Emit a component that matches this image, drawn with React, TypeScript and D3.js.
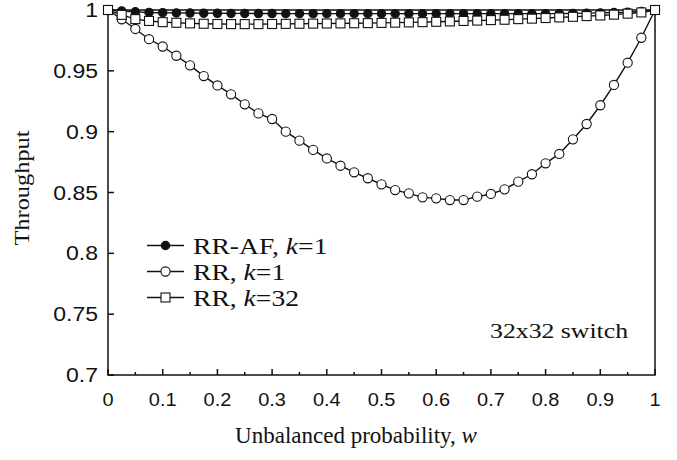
import React, { useEffect, useRef } from 'react';
import * as d3 from 'd3';

// w sampled every 0.025
const wValues = d3.range(0, 41).map(i => i / 40);

const rrK1 = [
  1.0, 0.9924, 0.9844, 0.976, 0.970, 0.9624, 0.9545, 0.9457, 0.938, 0.9307,
  0.9225, 0.915, 0.9104, 0.900, 0.8926, 0.885, 0.878, 0.872, 0.8666, 0.8617,
  0.8567, 0.852, 0.8493, 0.846, 0.8452, 0.8438, 0.8438, 0.8466, 0.8488, 0.8526,
  0.8589, 0.865, 0.874, 0.8817, 0.8937, 0.9063, 0.9217, 0.9384, 0.9567, 0.9772, 1.0,
];

const rrAfK1 = [
  1.0, 0.9992, 0.9985, 0.998, 0.9978, 0.9976, 0.9975, 0.9974, 0.9973, 0.9972,
  0.9972, 0.9971, 0.9971, 0.997, 0.997, 0.997, 0.997, 0.997, 0.997, 0.997,
  0.997, 0.997, 0.997, 0.997, 0.997, 0.997, 0.997, 0.997, 0.997, 0.997,
  0.997, 0.997, 0.997, 0.997, 0.9972, 0.9974, 0.9976, 0.9979, 0.9982, 0.9988, 1.0,
];

const rrK32 = [
  1.0, 0.996, 0.9925, 0.991, 0.990, 0.9895, 0.989, 0.9887, 0.9885, 0.9884,
  0.9884, 0.9884, 0.9885, 0.9886, 0.9887, 0.9888, 0.9889, 0.989, 0.9891, 0.9892,
  0.9894, 0.9896, 0.9898, 0.990, 0.9903, 0.9906, 0.991, 0.9913, 0.9917, 0.992,
  0.9925, 0.9929, 0.9934, 0.9939, 0.9944, 0.995, 0.9955, 0.9962, 0.997, 0.998, 1.0,
];

const xTicks = d3.range(0, 11).map(i => i / 10);
const xMinorTicks = d3.range(0, 10).map(i => i / 10 + 0.05);
const yTicks = [0.7, 0.75, 0.8, 0.85, 0.9, 0.95, 1];

const App = () => {
  const svgRef = useRef<SVGSVGElement>(null);

  useEffect(() => {
    const svg = d3.select(svgRef.current);
    svg.selectAll('*').remove();

    const width = 677;
    const height = 460;
    const margin = { top: 10, right: 22, bottom: 85, left: 108 };

    const x = d3.scaleLinear().domain([0, 1]).range([margin.left, width - margin.right]);
    const y = d3.scaleLinear().domain([0.7, 1]).range([height - margin.bottom, margin.top]);

    const sans = "'Liberation Sans', Arial, sans-serif";
    const serif = "'Liberation Serif', 'Times New Roman', serif";

    // text whose glyphs are a bit wider than the font's own
    const wideText = (g: any, tx: number, ty: number, sx: number, size: number, family: string, rotate = 0) =>
      g.append('text')
        .attr('transform', `translate(${tx},${ty}) rotate(${rotate}) scale(${sx},1)`)
        .attr('font-family', family).attr('font-size', size).attr('fill', '#111');

    // frame
    svg.append('rect')
      .attr('x', x(0)).attr('y', y(1))
      .attr('width', x(1) - x(0)).attr('height', y(0.7) - y(1))
      .attr('fill', 'none').attr('stroke', '#111').attr('stroke-width', 1.5);

    // x ticks (inward)
    const xAxis = svg.append('g');
    xAxis.selectAll('line.major').data(xTicks).join('line')
      .attr('class', 'major')
      .attr('x1', d => x(d)).attr('x2', d => x(d))
      .attr('y1', y(0.7)).attr('y2', y(0.7) - 6)
      .attr('stroke', '#111').attr('stroke-width', 1.5);
    xAxis.selectAll('line.minor').data(xMinorTicks).join('line')
      .attr('class', 'minor')
      .attr('x1', d => x(d)).attr('x2', d => x(d))
      .attr('y1', y(0.7)).attr('y2', y(0.7) - 3)
      .attr('stroke', '#111').attr('stroke-width', 1.5);
    xTicks.forEach(d => {
      wideText(xAxis, x(d), y(0.7) + 31, 1.05, 19, sans)
        .attr('text-anchor', 'middle')
        .text(String(d));
    });

    // y ticks (inward)
    const yAxis = svg.append('g');
    yAxis.selectAll('line').data(yTicks).join('line')
      .attr('x1', x(0)).attr('x2', x(0) + 6)
      .attr('y1', d => y(d)).attr('y2', d => y(d))
      .attr('stroke', '#111').attr('stroke-width', 1.5);
    yTicks.forEach(d => {
      wideText(yAxis, x(0) - 10, y(d) + 7, 1.18, 19.5, sans)
        .attr('text-anchor', 'end')
        .text(String(d));
    });

    // axis titles
    const xt = wideText(svg, 356, 443, 1.0, 23, serif)
      .attr('text-anchor', 'middle');
    xt.append('tspan').text('Unbalanced probability, ');
    xt.append('tspan').attr('font-style', 'italic').text('w');

    wideText(svg, 29, 188, 1.22, 20, serif, -90)
      .attr('text-anchor', 'middle')
      .text('Throughput');

    const line = d3.line<number>().x((d, i) => x(wValues[i])).y(d => y(d));

    const drawSeries = (vals: number[], kind: string) => {
      svg.append('path').datum(vals)
        .attr('d', line)
        .attr('fill', 'none').attr('stroke', '#111').attr('stroke-width', 1.4);
      const g = svg.append('g');
      if (kind === 'square') {
        g.selectAll('rect').data(vals).join('rect')
          .attr('x', (d, i) => x(wValues[i]) - 4.5)
          .attr('y', d => y(d) - 4.5)
          .attr('width', 9).attr('height', 9)
          .attr('fill', '#fff').attr('stroke', '#111').attr('stroke-width', 1.1);
      } else {
        g.selectAll('circle').data(vals).join('circle')
          .attr('cx', (d, i) => x(wValues[i]))
          .attr('cy', d => y(d))
          .attr('r', kind === 'filled' ? 4.2 : 4.6)
          .attr('fill', kind === 'filled' ? '#111' : '#fff')
          .attr('stroke', '#111').attr('stroke-width', 1.1);
      }
    };

    drawSeries(rrK1, 'open');
    drawSeries(rrAfK1, 'filled');
    drawSeries(rrK32, 'square');

    // legend
    const legend = [
      { label: 'RR-AF, ', k: '1', kind: 'filled' },
      { label: 'RR, ', k: '1', kind: 'open' },
      { label: 'RR, ', k: '32', kind: 'square' },
    ];
    legend.forEach((item, i) => {
      const ly = 245.5 + i * 26;
      const g = svg.append('g');
      g.append('line')
        .attr('x1', 147).attr('x2', 184).attr('y1', ly).attr('y2', ly)
        .attr('stroke', '#111').attr('stroke-width', 1.4);
      if (item.kind === 'square') {
        g.append('rect').attr('x', 165.5 - 4.5).attr('y', ly - 4.5)
          .attr('width', 9).attr('height', 9)
          .attr('fill', '#fff').attr('stroke', '#111').attr('stroke-width', 1.1);
      } else {
        g.append('circle').attr('cx', 165.5).attr('cy', ly)
          .attr('r', item.kind === 'filled' ? 4.2 : 4.6)
          .attr('fill', item.kind === 'filled' ? '#111' : '#fff')
          .attr('stroke', '#111').attr('stroke-width', 1.1);
      }
      const t = wideText(g, 193, ly + 8, 1.2, 23, serif);
      t.append('tspan').text(item.label);
      t.append('tspan').attr('font-style', 'italic').text('k');
      t.append('tspan').text('=' + item.k);
    });

    wideText(svg, 628, 338, 1.17, 22, serif)
      .attr('text-anchor', 'end')
      .text('32x32 switch');
  }, []);

  return (
    <svg
      ref={svgRef}
      width={677}
      height={460}
      viewBox="0 0 677 460"
      style={{ position: 'absolute', left: 0, top: 0, background: '#fff' }}
    />
  );
};

export default App;
